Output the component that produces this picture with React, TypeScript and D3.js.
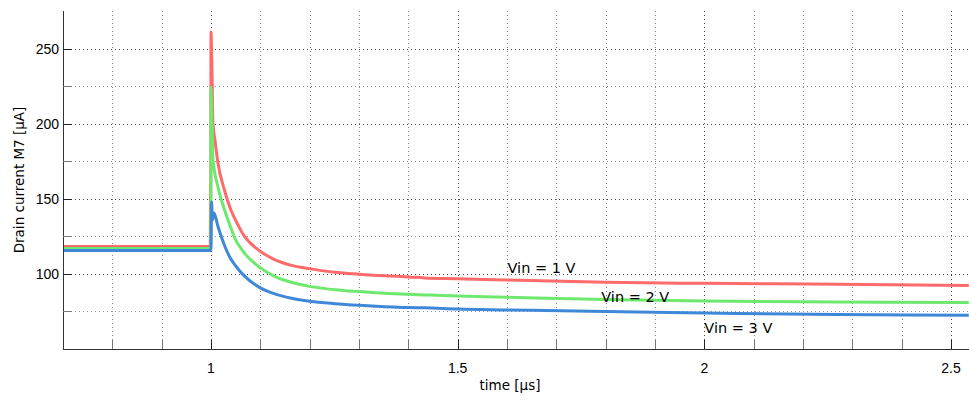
import React from "react";
import * as d3 from "d3";

// time [µs] and drain current [µA]
const tRed = [0.7, 0.9985, 0.999, 0.9995, 1.0, 1.002, 1.004, 1.008, 1.014, 1.028, 1.041, 1.048, 1.062, 1.068, 1.1, 1.129, 1.163, 1.2, 1.251, 1.3, 1.352, 1.4, 1.433, 1.5, 1.6, 1.8, 2.0, 2.27, 2.536];
const iRed = [118.2, 118.2, 160, 150, 261, 235, 200, 189, 174, 155, 142, 137, 128, 125, 115, 109.5, 105.7, 103.5, 101.1, 99.8, 98.7, 98, 97.3, 96.8, 95.9, 94.5, 93.7, 93.1, 92.2];

const tGreen = [0.7, 0.9995, 1.0, 1.002, 1.004, 1.014, 1.028, 1.041, 1.048, 1.065, 1.1, 1.129, 1.163, 1.2, 1.251, 1.3, 1.352, 1.4, 1.433, 1.5, 1.6, 1.8, 2.0, 2.27, 2.536];
const iGreen = [116.9, 116.9, 224, 200, 176, 158, 142, 130, 124, 115, 104, 98.4, 94.4, 91.7, 89.5, 88.2, 87.1, 86.4, 86, 85.2, 84.4, 82.9, 82, 81.3, 80.9];

const tBlue = [0.7, 0.9995, 1.0005, 1.001, 1.003, 1.006, 1.014, 1.028, 1.041, 1.048, 1.065, 1.1, 1.129, 1.163, 1.2, 1.251, 1.3, 1.352, 1.4, 1.433, 1.5, 1.6, 1.8, 2.0, 2.27, 2.536];
const iBlue = [115.5, 115.5, 130, 148, 136, 140.5, 131.7, 118.4, 109.5, 106.2, 99.5, 90.7, 86.7, 83.8, 81.8, 80.2, 79.1, 78.2, 77.6, 77.4, 76.6, 76, 74.9, 74, 72.9, 72.4];

const seriesNames = ["Vin = 1 V", "Vin = 2 V", "Vin = 3 V"];
const seriesColors = ["#ff6b6b", "#6ee86e", "#3f88d8"];
const labelPos = [
  [1.601, 100.9],
  [1.791, 81.6],
  [2.0, 60.9],
];

const xLabelTicks = [1, 1.5, 2, 2.5];
const yLabelTicks = [100, 150, 200, 250];

const W = 969;
const H = 401;
const margin = { left: 63, top: 11, right: 0, bottom: 52 };

export default function App() {
  const x = d3.scaleLinear().domain([0.7, 2.5364]).range([margin.left, W - margin.right]);
  const y = d3.scaleLinear().domain([50, 275]).range([H - margin.bottom, margin.top]);

  const xMinor = d3.range(8, 26).map((d) => d / 10);
  const yMinor = d3.range(75, 275, 25);

  const series = [
    tRed.map((t, i) => [t, iRed[i]]),
    tGreen.map((t, i) => [t, iGreen[i]]),
    tBlue.map((t, i) => [t, iBlue[i]]),
  ] as [number, number][][];

  const line = d3
    .line<[number, number]>()
    .x((d) => x(d[0]))
    .y((d) => y(d[1]))
    .curve(d3.curveMonotoneX);

  const font = "DejaVu Sans, sans-serif";
  const tickFont = "Liberation Sans, Arial, sans-serif";
  const y0 = y.range()[0];
  const y1 = y.range()[1];
  const x0 = x.range()[0];
  const x1 = x.range()[1];
  const isMajorX = (v: number) => xLabelTicks.some((t) => Math.abs(t - v) < 1e-6);

  return (
    <svg width={W} height={H} style={{ position: "absolute", left: 0, top: 0, background: "#fff" }}>
      {/* grid */}
      <g shapeRendering="crispEdges">
        {xMinor.map((v) => (
          <line
            key={"gx" + v}
            x1={Math.round(x(v)) + 0.5}
            x2={Math.round(x(v)) + 0.5}
            y1={y1}
            y2={y0}
            stroke={isMajorX(v) ? "#444" : "#888"}
            strokeDasharray="1,3"
          />
        ))}
        {yMinor.map((v) => (
          <line
            key={"gy" + v}
            x1={x0}
            x2={x1}
            y1={Math.round(y(v)) + 0.5}
            y2={Math.round(y(v)) + 0.5}
            stroke={v % 50 === 0 ? "#444" : "#999"}
            strokeDasharray="1,3"
          />
        ))}
      </g>

      {/* curves */}
      {series.map((s, i) => (
        <path key={i} d={line(s) || ""} fill="none" stroke={seriesColors[i]} strokeWidth={3} strokeLinejoin="round" />
      ))}

      {/* axes */}
      <g shapeRendering="crispEdges">
        <line x1={x0 + 0.5} x2={x0 + 0.5} y1={y1} y2={y0} stroke="#333" />
        <line x1={x0} x2={x1} y1={y0 + 0.5} y2={y0 + 0.5} stroke="#333" />
        {xMinor.map((v) => (
          <line
            key={"tx" + v}
            x1={Math.round(x(v)) + 0.5}
            x2={Math.round(x(v)) + 0.5}
            y1={y0}
            y2={y0 - 9}
            stroke={isMajorX(v) ? "#222" : "#777"}
          />
        ))}
        {yMinor.map((v) => (
          <line
            key={"ty" + v}
            x1={x0}
            x2={x0 + 9}
            y1={Math.round(y(v)) + 0.5}
            y2={Math.round(y(v)) + 0.5}
            stroke={v % 50 === 0 ? "#222" : "#777"}
          />
        ))}
      </g>

      {xLabelTicks.map((v) => (
        <text key={"lx" + v} x={x(v)} y={y0 + 24} textAnchor="middle" fontFamily={tickFont} fontSize={14} fill="#000">
          {v}
        </text>
      ))}
      {yLabelTicks.map((v) => (
        <text key={"ly" + v} x={x0 - 4} y={y(v) + 5} textAnchor="end" fontFamily={tickFont} fontSize={14} fill="#000">
          {v}
        </text>
      ))}

      <text x={510} y={390} textAnchor="middle" fontFamily={font} fontSize={13.5} fill="#000">
        time [µs]
      </text>
      <text
        transform={`translate(24,${(y0 + y1) / 2}) rotate(-90)`}
        textAnchor="middle"
        fontFamily={font}
        fontSize={13.5}
        fill="#000"
      >
        Drain current M7 [µA]
      </text>

      {seriesNames.map((n, i) => (
        <text key={n} x={x(labelPos[i][0])} y={y(labelPos[i][1])} fontFamily={font} fontSize={14.5} fill="#000">
          {n}
        </text>
      ))}
    </svg>
  );
}
